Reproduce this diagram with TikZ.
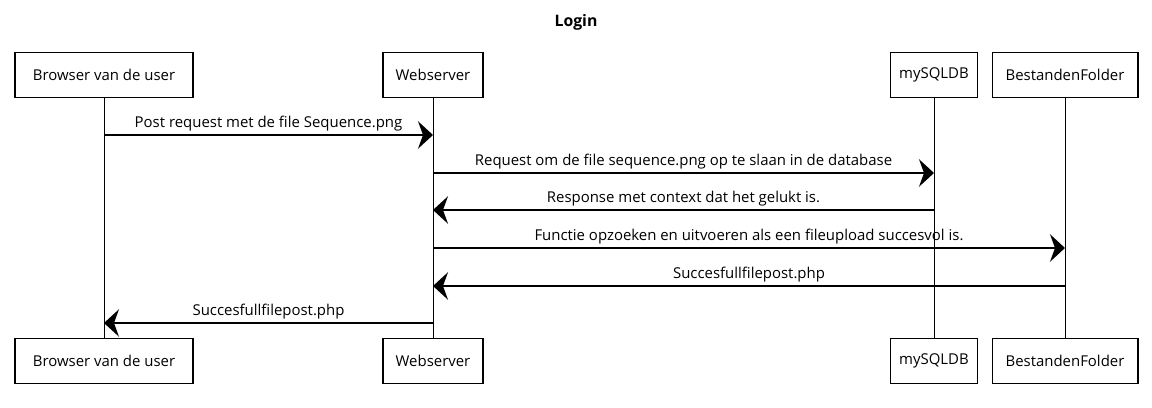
\documentclass[tikz,border=0pt]{standalone}
\usepackage{fontspec}
\setmainfont{Open Sans}
\usetikzlibrary{arrows.meta}

\begin{document}
\begin{tikzpicture}[x=0.02cm,y=-0.02cm,
  actor/.style={draw, line width=0.6pt, minimum height=0.9cm, inner xsep=0pt,
    font=\fontsize{8.5}{10}\selectfont},
  msg/.style={line width=0.7pt, -{Stealth[length=0.3cm,width=0.55cm,inset=0.1cm]}},
  lbl/.style={above, inner sep=2pt, font=\fontsize{8.5}{10}\selectfont},
  life/.style={line width=0.5pt}]
\useasboundingbox (0,0) rectangle (1152,408);
\node[font=\fontsize{9}{11}\selectfont\bfseries] (title) at (576,22) {Login};
% actors on top
\node[actor, minimum width=3.56cm] (brT) at (104,75) {Browser van de user};
\node[actor, minimum width=2cm] (wsT) at (433,75) {Webserver};
\node[actor, minimum width=1.74cm] (dbT) at (934,75) {mySQLDB};
\node[actor, minimum width=2.92cm] (fdT) at (1065,75) {BestandenFolder};
% actors at the bottom
\node[actor, minimum width=3.56cm] (brB) at (104,361) {Browser van de user};
\node[actor, minimum width=2cm] (wsB) at (433,361) {Webserver};
\node[actor, minimum width=1.74cm] (dbB) at (934,361) {mySQLDB};
\node[actor, minimum width=2.92cm] (fdB) at (1065,361) {BestandenFolder};
% lifelines
\draw[life] (brT) -- (brB);
\draw[life] (wsT) -- (wsB);
\draw[life] (dbT) -- (dbB);
\draw[life] (fdT) -- (fdB);
% messages
\draw[msg] (brT.south |- 0,135) -- node[lbl] {Post request met de file Sequence.png} (wsT.south |- 0,135);
\draw[msg] (wsT.south |- 0,173) -- node[lbl] {Request om de file sequence.png op te slaan in de database} (dbT.south |- 0,173);
\draw[msg] (dbT.south |- 0,210) -- node[lbl] {Response met context dat het gelukt is.} (wsT.south |- 0,210);
\draw[msg] (wsT.south |- 0,248) -- node[lbl] {Functie opzoeken en uitvoeren als een fileupload succesvol is.} (fdT.south |- 0,248);
\draw[msg] (fdT.south |- 0,286) -- node[lbl] {Succesfullfilepost.php} (wsT.south |- 0,286);
\draw[msg] (wsT.south |- 0,323) -- node[lbl] {Succesfullfilepost.php} (brT.south |- 0,323);
\end{tikzpicture}
\end{document}
